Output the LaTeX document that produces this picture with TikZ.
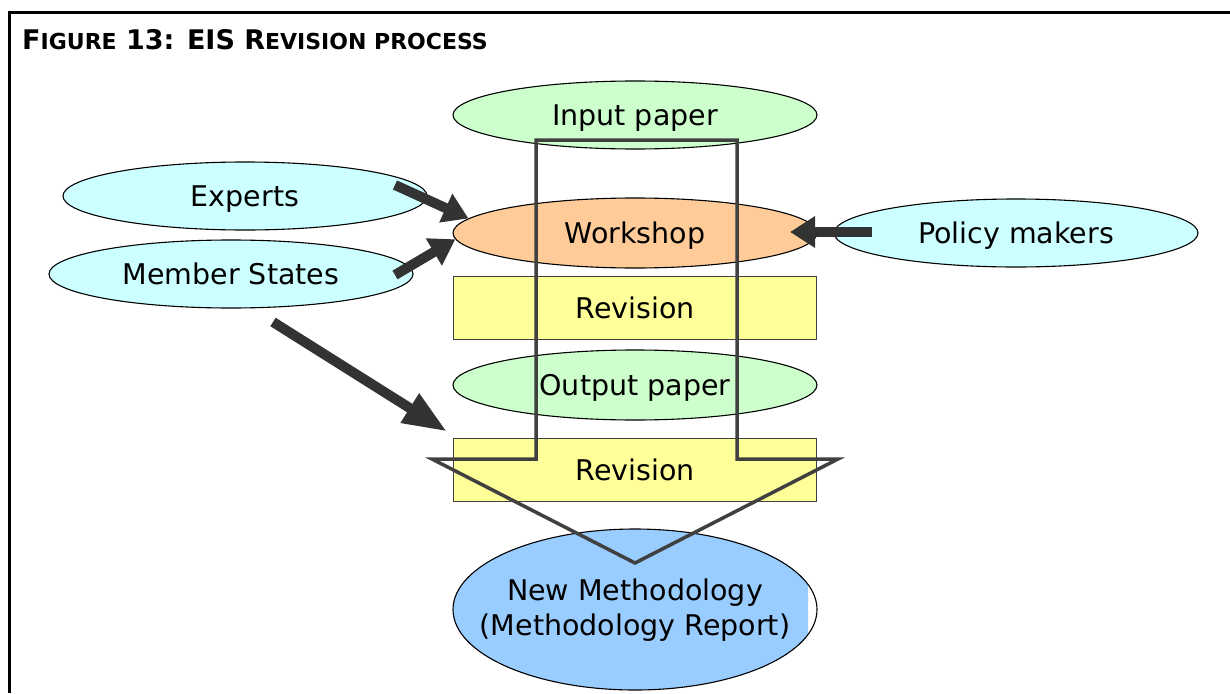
\documentclass[tikz,border=0pt]{standalone}
\usepackage{fontspec}
\setmainfont{DejaVu Sans}
\usetikzlibrary{shapes.geometric,arrows.meta,calc}
\definecolor{paper}{HTML}{CCFFCC}
\definecolor{actor}{HTML}{CCFFFF}
\definecolor{work}{HTML}{FFCC99}
\definecolor{revis}{HTML}{FFFF99}
\definecolor{nmblue}{HTML}{99CCFF}
\definecolor{arrowgray}{HTML}{333333}
\definecolor{outlinegray}{HTML}{404040}
\begin{document}
\begin{tikzpicture}[x=1pt,y=-1pt,
  lbl/.style={font=\fontsize{28.5}{34}\selectfont, inner sep=0pt, align=center, text height=21pt, text depth=0pt},
  oval/.style={ellipse, draw=black, line width=1.1pt, lbl, minimum width=364pt, minimum height=68pt},
  papr/.style={oval, fill=paper},
  act/.style={oval, fill=actor},
  revbox/.style={rectangle, draw=outlinegray, line width=1pt, fill=revis, lbl, minimum width=363pt, minimum height=63pt},
  blk/.style={line width=10pt, draw=arrowgray, -{Triangle[length=25pt,width=30pt]}},
  blklong/.style={line width=10pt, draw=arrowgray, -{Triangle[length=44pt,width=32pt]}},
  bigout/.style={draw=outlinegray, line width=3.5pt, line join=miter}
]
\useasboundingbox (0,0) rectangle (1230,693);
\fill[white] (0,0) rectangle (1230,693);
% frame
\draw[line width=3pt] (8,13) -- (1230,13);
\draw[line width=3pt] (9.5,13) -- (9.5,693);
% title
\node[anchor=base west, inner sep=0pt, font=\bfseries] (title) at (22,49)
 {{\fontsize{27}{30}\selectfont F}{\fontsize{22}{24}\selectfont IGURE}{\fontsize{27}{30}\selectfont\ 13: EIS R}{\fontsize{22}{24}\selectfont EVISION PROCESS}};
% nodes
\node[papr] (inp) at (635,115) {Input paper};
\node[act] (exp) at (245,196) {Experts};
\node[oval, fill=work, minimum height=70pt] (ws) at (635,233) {Workshop};
\node[act] (ms) at (231,274) {Member States};
\node[act] (pm) at (1016,233) {Policy makers};
\node[revbox] (rev1) at (635,307.5) {Revision};
\node[papr, minimum height=70pt] (outp) at (635,385) {Output paper};
\node[revbox] (rev2) at (635,469.5) {Revision};
\begin{scope}
  \clip (440,520) rectangle (808,695);
  \fill[nmblue] (635,609.5) ellipse [x radius=182, y radius=80.5];
\end{scope}
\node[ellipse, draw=black, line width=1.1pt, inner sep=0pt, minimum width=364pt, minimum height=161pt] (nm) at (635,609.5) {};
\node[inner sep=0pt, align=center, font=\fontsize{28.5}{35}\selectfont] (nmtext) at ($(nm.center)+(0,1)$) {New Methodology\\(Methodology Report)};
% block arrows
\coordinate (expT) at (395,185);
\coordinate (msT) at (395,275);
\coordinate (pmT) at (872,232);
\coordinate (pmH) at (790,232);
\coordinate (longT) at (273,322);
\coordinate (longH) at ($(rev2.north west)+(-6,-6)$);
\draw[blk] (expT) -- (ws.175.6);
\draw[blk] (msT) -- (ws.182.7);
\draw[blk] (pmT) -- (pmH);
\draw[blklong] (longT) -- (longH);
% big outline arrow
\coordinate (oTL) at (536,140);
\coordinate (oTR) at (737,140);
\coordinate (oTip) at (635,563);
\draw[bigout] (oTL) -- (536,459) -- (432,459) -- (oTip) -- (838,459) -- (737,459) -- (oTR) -- cycle;
\end{tikzpicture}
\end{document}
